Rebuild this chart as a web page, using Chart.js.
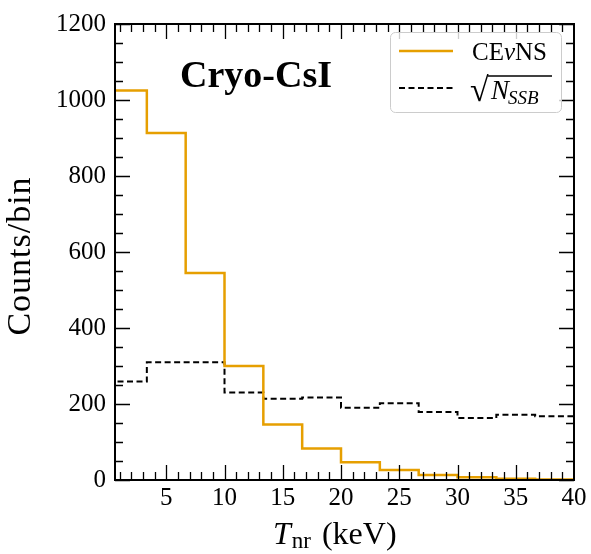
<!DOCTYPE html>
<html>
<head>
<meta charset="utf-8">
<script src="https://cdn.jsdelivr.net/npm/chart.js@4"></script>
<style>
  html, body { margin: 0; padding: 0; background: #fff; }
  #plot { display: block; }
</style>
</head>
<body>
<canvas id="plot" width="591" height="554"></canvas>
<script>
// bin edges in keV (12 bins of 10/3 keV)
const binEdges = [0, 3.333, 6.667, 10, 13.333, 16.667, 20, 23.333, 26.667, 30, 33.333, 36.667, 40];
const cevnsCounts = [1025, 913, 545, 300, 146, 83, 47, 26, 13, 7, 3.5, 1.5];
const ssbSqrt = [259, 310, 310, 230, 214, 217, 190, 202, 179, 163, 172, 168];
const xTickLabels = [5, 10, 15, 20, 25, 30, 35, 40];
const yTickLabels = [0, 200, 400, 600, 800, 1000, 1200];

const SERIF = '"Liberation Serif", "DejaVu Serif", serif';
const ORANGE = '#E69F00';

// histogram -> step points, value i spans edge i .. edge i+1
function steps(values) {
    const pts = [{ x: binEdges[0], y: values[0] }];
    values.forEach((v, i) => pts.push({ x: binEdges[i + 1], y: v }));
    return pts;
}

// inside ticks on all four sides + frame + legend + texts
const decor = {
    id: 'decor',
    afterDraw(chart) {
        const c = chart.ctx;
        const a = chart.chartArea;
        const sx = chart.scales.x, sy = chart.scales.y;
        c.save();
        c.strokeStyle = '#000';
        c.lineWidth = 1.3;
        c.beginPath();
        for (let v = 1; v <= 40; v++) {
            const px = Math.round(sx.getPixelForValue(v)) + 0.5;
            if (px < a.left || px > a.right) continue;
            const len = v % 5 === 0 ? 15 : 8;
            c.moveTo(px, a.bottom); c.lineTo(px, a.bottom - len);
            c.moveTo(px, a.top); c.lineTo(px, a.top + len);
        }
        for (let v = 0; v <= 1200; v += 50) {
            const py = Math.round(sy.getPixelForValue(v)) + 0.5;
            const len = v % 200 === 0 ? 15 : 8;
            c.moveTo(a.left, py); c.lineTo(a.left + len, py);
            c.moveTo(a.right, py); c.lineTo(a.right - len, py);
        }
        c.stroke();
        c.lineWidth = 2;
        c.strokeRect(a.left, a.top, a.right - a.left, a.bottom - a.top);

        // title inside the plot
        c.fillStyle = '#000';
        c.font = 'bold 38px ' + SERIF;
        c.textBaseline = 'alphabetic';
        c.textAlign = 'left';
        c.fillText('Cryo-CsI', 180, 87);

        // legend box
        c.beginPath();
        c.roundRect(390.5, 32.5, 171, 80, 5);
        c.fillStyle = 'rgba(255,255,255,0.8)';
        c.fill();
        c.strokeStyle = '#cccccc';
        c.lineWidth = 1;
        c.stroke();

        c.lineWidth = 2.5;
        c.strokeStyle = ORANGE;
        c.beginPath(); c.moveTo(399, 51); c.lineTo(453, 51); c.stroke();
        c.lineWidth = 2;
        c.strokeStyle = '#000';
        c.setLineDash([6, 3.5]);
        c.beginPath(); c.moveTo(399, 88); c.lineTo(453, 88); c.stroke();
        c.setLineDash([]);

        c.fillStyle = '#000';
        let x = 472;
        c.font = '25px ' + SERIF;
        c.fillText('CE', x, 60); x += c.measureText('CE').width;
        c.font = 'italic 25px ' + SERIF;
        c.fillText('\u03BD', x, 60); x += c.measureText('\u03BD').width;
        c.font = '25px ' + SERIF;
        c.fillText('NS', x, 60);

        c.font = '34px ' + SERIF;
        c.fillText('\u221A', 470, 101);
        c.lineWidth = 1.6;
        c.beginPath(); c.moveTo(488, 76); c.lineTo(552, 76); c.stroke();
        x = 491;
        c.font = 'italic 27px ' + SERIF;
        c.fillText('N', x, 99); x += c.measureText('N').width - 1;
        c.font = 'italic 19px ' + SERIF;
        c.fillText('SSB', x, 104);

        // axis titles
        x = 273;
        c.font = 'italic 32px ' + SERIF;
        c.fillText('T', x, 544); x += c.measureText('T').width + 1;
        c.font = '23px ' + SERIF;
        c.fillText('nr', x, 548); x += c.measureText('nr').width + 11;
        c.font = '32px ' + SERIF;
        c.fillText('(keV)', x, 544);

        c.translate(21, 256);
        c.rotate(-Math.PI / 2);
        c.font = '34px ' + SERIF;
        c.letterSpacing = '1px';
        c.textAlign = 'center';
        c.textBaseline = 'middle';
        c.fillText('Counts/bin', 0, 0);
        c.restore();
    }
};

const ctx = document.getElementById('plot').getContext('2d');

const chart = new Chart(ctx, {
    type: 'line',
    data: {
        datasets: [{
            label: 'CE\u03BDNS',
            data: steps(cevnsCounts),
            borderColor: ORANGE,
            borderWidth: 2.5,
            stepped: 'after',
            pointRadius: 0,
            fill: false
        }, {
            label: '\u221AN_SSB',
            data: steps(ssbSqrt),
            borderColor: '#000',
            borderWidth: 2,
            borderDash: [6, 3.5],
            stepped: 'after',
            pointRadius: 0,
            fill: false
        }]
    },
    options: {
        responsive: false,
        animation: false,
        layout: { padding: { top: 20, right: 17, left: 0, bottom: 0 } },
        scales: {
            x: {
                type: 'linear',
                min: 0.6,
                max: 40,
                afterBuildTicks: s => { s.ticks = xTickLabels.map(v => ({ value: v })); },
                afterFit: s => { s.height = 74; },
                grid: { display: false, drawTicks: false },
                border: { display: false },
                ticks: {
                    color: '#000',
                    font: { family: SERIF, size: 25 },
                    padding: 3,
                    maxRotation: 0,
                    autoSkip: false,
                    callback: v => String(v)
                }
            },
            y: {
                min: 0,
                max: 1200,
                afterBuildTicks: s => { s.ticks = yTickLabels.map(v => ({ value: v })); },
                afterFit: s => { s.width = 115; },
                grid: { display: false, drawTicks: false },
                border: { display: false },
                ticks: {
                    color: '#000',
                    font: { family: SERIF, size: 25 },
                    padding: 9,
                    autoSkip: false,
                    callback: v => String(v)
                }
            }
        },
        plugins: {
            legend: { display: false },
            tooltip: { enabled: false }
        }
    },
    plugins: [decor]
});
</script>
</body>
</html>
